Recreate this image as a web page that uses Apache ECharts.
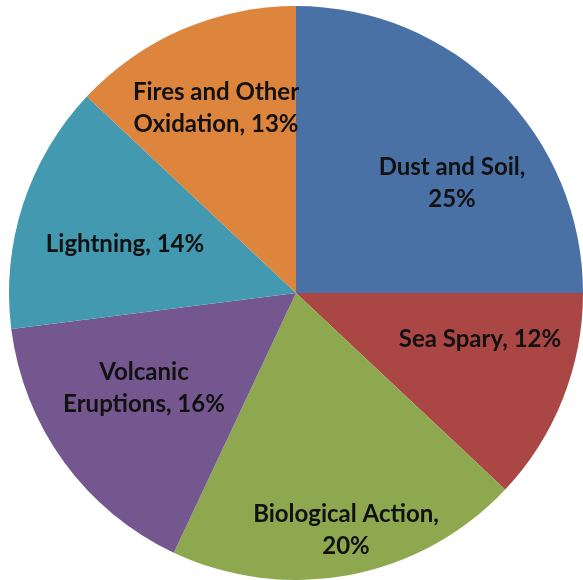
<!DOCTYPE html>
<html>
<head>
<meta charset="utf-8">
<script src="https://cdn.jsdelivr.net/npm/echarts@6/dist/echarts.min.js"></script>
<style>
html,body{margin:0;padding:0;background:#fff;}
#chart{width:583px;height:580px;}
</style>
</head>
<body>
<div id="chart"></div>
<script>
const categories = ["Dust and Soil", "Sea Spary", "Biological Action", "Volcanic Eruptions", "Lightning", "Fires and Other Oxidation"];
const values = [25, 12, 20, 16, 14, 13];
const labelTexts = ["Dust and Soil,\n25%", "Sea Spary, 12%", "Biological Action,\n20%", "Volcanic\nEruptions, 16%", "Lightning, 14%", "Fires and Other\nOxidation, 13%"];

const colors = ["#4A71A6", "#AA4644", "#8DA84E", "#74578E", "#4399B0", "#DD843D"];
const labelPos = [[452, 183], [480, 339], [346, 530], [144, 388], [125, 244], [216, 108]];

const chart = echarts.init(document.getElementById('chart'), null, {renderer: 'canvas'});
chart.setOption({
  animation: false,
  backgroundColor: '#ffffff',
  series: [{
    type: 'pie',
    center: [296, 293],
    radius: 287,
    startAngle: 90,
    clockwise: true,
    data: categories.map((c, i) => ({name: c, value: values[i], itemStyle: {color: colors[i]}})),
    label: {
      show: true,
      position: 'inside',
      formatter: p => labelTexts[p.dataIndex],
      fontFamily: 'Lato',
      fontWeight: 'bold',
      fontSize: 24,
      lineHeight: 32,
      color: '#111111',
      align: 'center'
    },
    labelLine: {show: false},
    labelLayout: p => ({x: labelPos[p.dataIndex][0], y: labelPos[p.dataIndex][1], align: 'center', verticalAlign: 'middle'}),
    emphasis: {disabled: true}
  }]
});
</script>
</body>
</html>
